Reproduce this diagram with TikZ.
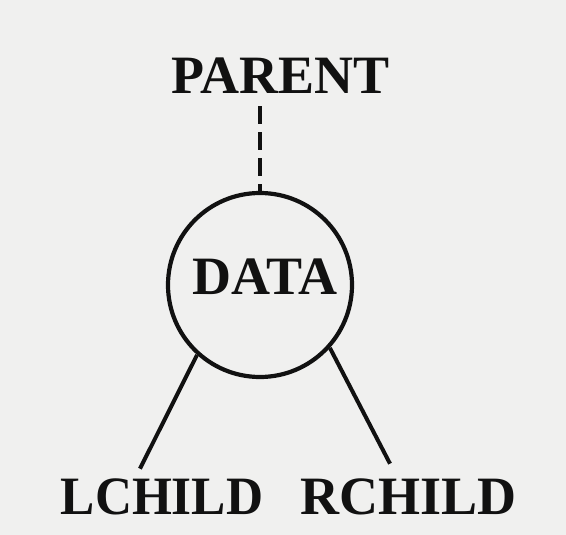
\documentclass[tikz,border=0pt]{standalone}
\usepackage{fontspec}
\setmainfont{Liberation Serif}
\usetikzlibrary{calc}
\definecolor{bg}{HTML}{F0F0EF}
\definecolor{ink}{HTML}{111111}
\begin{document}
\begin{tikzpicture}[x=1pt,y=1pt,
  lbl/.style={inner sep=0pt, text=ink, font=\fontsize{54}{60}\selectfont\bfseries},
  ring/.style={circle, draw=ink, line width=4.2pt, minimum size=184pt, inner sep=0pt},
  link/.style={draw=ink, line width=4pt},
  dashlink/.style={draw=ink, line width=4pt, dash pattern=on 18pt off 8pt}]
\fill[bg] (0,0) rectangle (566,-535);
\useasboundingbox (0,0) rectangle (566,-535);
\node[lbl] (parent) at (281,-76) {PARENT};
\node[ring] (data) at (260,-285) {};
\node[lbl] (datalbl) at (265,-277) {DATA};
\node[lbl, xscale=0.95] (lchild) at (162,-497) {LCHILD};
\node[lbl] (rchild) at (409,-497) {RCHILD};
\draw[dashlink] ($(data.north |- parent.south)+(0,-12)$) -- (data.north);
\draw[link] (data.228.8) -- ($(lchild.north)+(-22,10)$);
\draw[link] (data.318.6) -- ($(rchild.north)+(-19,15)$);
\end{tikzpicture}
\end{document}
